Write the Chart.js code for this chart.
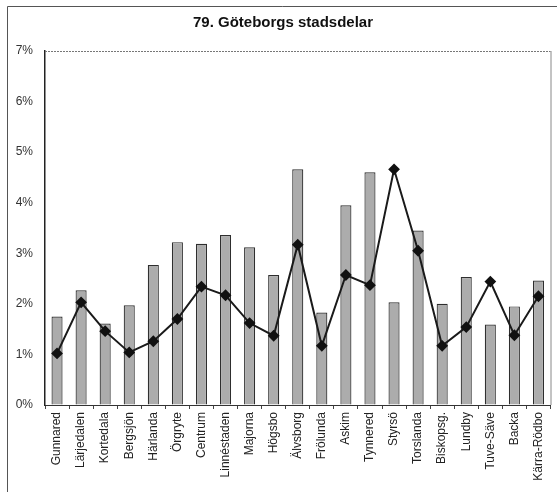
<!DOCTYPE html>
<html>
<head>
<meta charset="utf-8">
<script src="https://cdn.jsdelivr.net/npm/chart.js@4/dist/chart.umd.min.js"></script>
<style>
  html, body { margin: 0; padding: 0; background: #fff; }
  #wrap { width: 557px; height: 492px; position: relative; }
</style>
</head>
<body>
<div id="wrap"><canvas id="chart" width="557" height="492"></canvas></div>
<script>
// Stadsdelar, stapel- och linjevärden (procent)
const districts = ['Gunnared', 'Lärjedalen', 'Kortedala', 'Bergsjön', 'Härlanda', 'Örgryte', 'Centrum',
    'Linnéstaden', 'Majorna', 'Högsbo', 'Älvsborg', 'Frölunda', 'Askim', 'Tynnered', 'Styrsö',
    'Torslanda', 'Biskopsg.', 'Lundby', 'Tuve-Säve', 'Backa', 'Kärra-Rödbo'];
const barValues = [1.75, 2.27, 1.61, 1.97, 2.77, 3.22, 3.19, 3.36, 3.12, 2.57, 4.66,
    1.83, 3.95, 4.60, 2.03, 3.45, 2.00, 2.53, 1.59, 1.95, 2.46];
const lineValues = [1.02, 2.03, 1.46, 1.04, 1.26, 1.70, 2.34, 2.17, 1.62, 1.37, 3.17,
    1.17, 2.57, 2.37, 4.66, 3.05, 1.17, 1.54, 2.44, 1.38, 2.15];
const yTicks = [0, 1, 2, 3, 4, 5, 6, 7];
const chartTitle = '79. Göteborgs stadsdelar';

const FONT = '"Liberation Sans", Arial, sans-serif';

// Ram, rubrik och diagramytans kanter
const framePlugin = {
    id: 'frame',
    afterDraw(chart) {
        const ctx = chart.ctx;
        const a = chart.chartArea;
        ctx.save();
        ctx.strokeStyle = '#555';
        ctx.lineWidth = 1;
        ctx.beginPath();
        ctx.moveTo(7.5, 492);
        ctx.lineTo(7.5, 6.5);
        ctx.lineTo(557, 6.5);
        ctx.stroke();

        ctx.strokeStyle = '#777';
        ctx.setLineDash([2, 1]);
        ctx.beginPath();
        ctx.moveTo(a.left, a.top + 0.5);
        ctx.lineTo(a.right, a.top + 0.5);
        ctx.stroke();
        ctx.setLineDash([]);
        ctx.strokeStyle = '#888';
        ctx.beginPath();
        ctx.moveTo(a.right + 0.5, a.top);
        ctx.lineTo(a.right + 0.5, a.bottom);
        ctx.stroke();

        ctx.fillStyle = '#111';
        ctx.font = 'bold 15px ' + FONT;
        ctx.textAlign = 'center';
        ctx.textBaseline = 'middle';
        ctx.fillText(chartTitle, 283, 23);
        ctx.restore();
    }
};

new Chart(document.getElementById('chart'), {
    data: {
        labels: districts,
        datasets: [{
            type: 'line',
            data: lineValues,
            borderColor: '#1a1a1a',
            borderWidth: 2,
            pointStyle: 'rectRot',
            pointRadius: 4.5,
            pointBackgroundColor: '#111',
            pointBorderColor: '#111',
            tension: 0,
            order: 0
        }, {
            type: 'bar',
            data: barValues,
            backgroundColor: '#acacac',
            borderColor: '#2e2e2e',
            borderWidth: 1.2,
            borderSkipped: 'bottom',
            barPercentage: 0.5,
            categoryPercentage: 0.92,
            order: 1
        }]
    },
    options: {
        responsive: false,
        animation: false,
        layout: { padding: { top: 51, left: 7, right: 4, bottom: 0 } },
        plugins: {
            legend: { display: false },
            tooltip: { enabled: false }
        },
        scales: {
            x: {
                grid: { offset: true, drawOnChartArea: false, tickLength: 4, color: '#444' },
                border: { color: '#333', width: 1 },
                ticks: {
                    minRotation: 90, maxRotation: 90, autoSkip: false,
                    color: '#222', padding: 3,
                    font: { family: FONT, size: 12 }
                },
                afterFit(s) { s.height = 87; }
            },
            y: {
                min: 0, max: 7,
                afterBuildTicks(s) { s.ticks = yTicks.map(v => ({ value: v })); },
                grid: { drawOnChartArea: false, drawTicks: false },
                border: { color: '#222', width: 1.5 },
                ticks: {
                    color: '#333', padding: 12,
                    font: { family: FONT, size: 12 },
                    callback: v => v + '%'
                },
                afterFit(s) { s.width = 38; }
            }
        }
    },
    plugins: [framePlugin]
});
</script>
</body>
</html>
